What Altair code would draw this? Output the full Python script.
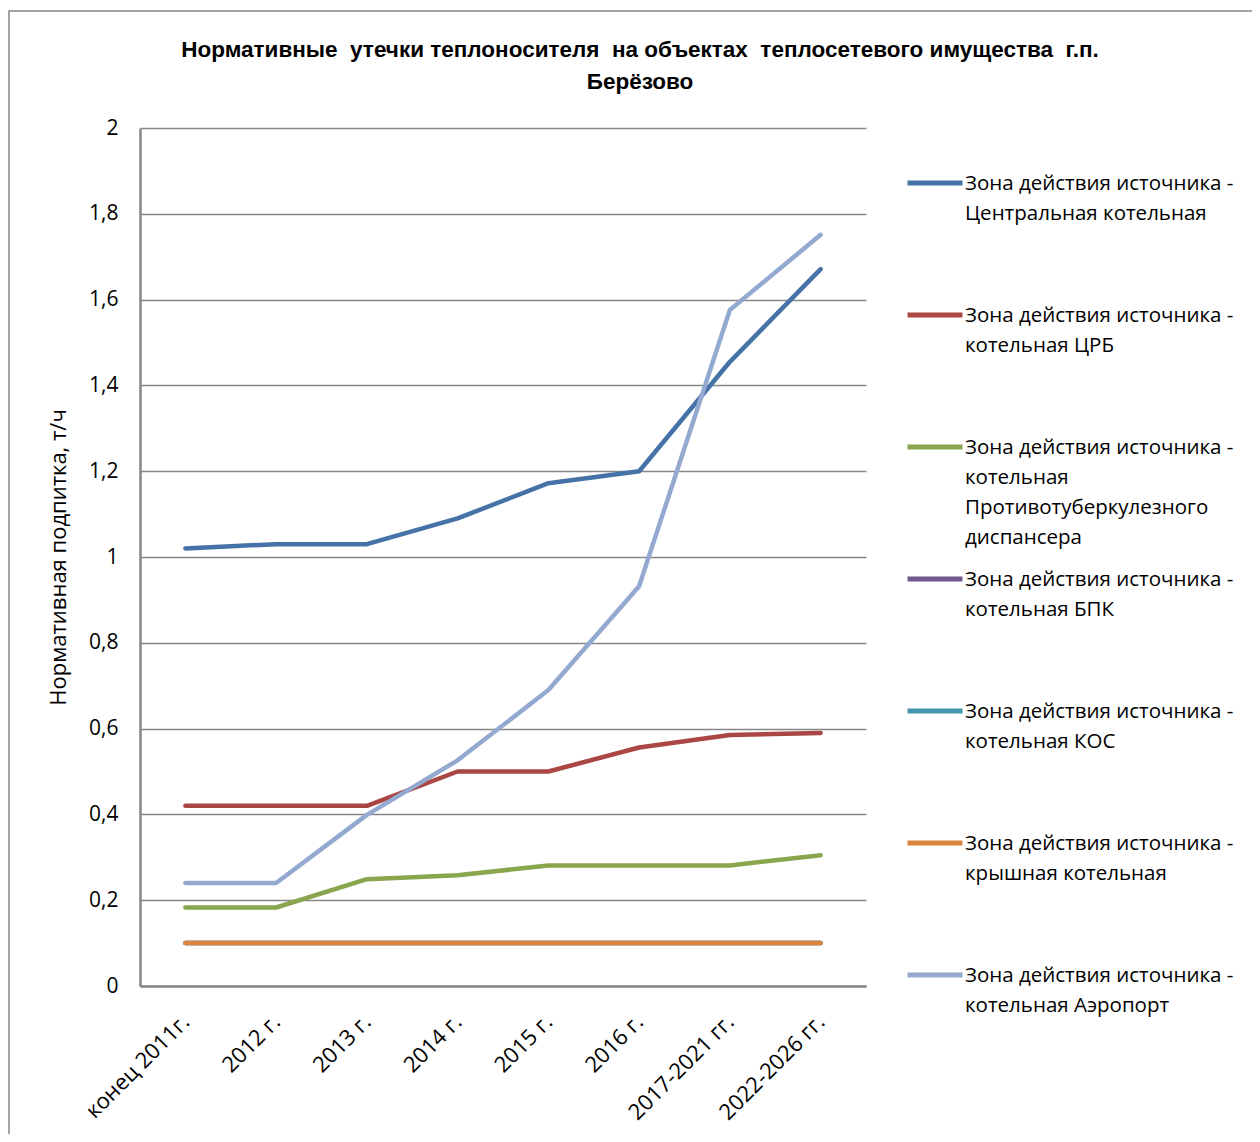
import altair as alt
import pandas as pd

categories = ["конец 2011г.", "2012 г.", "2013 г.", "2014 г.", "2015 г.", "2016 г.",
              "2017-2021 гг.", "2022-2026 гг."]

series_names = [
    "Зона действия источника -|Центральная котельная",
    "Зона действия источника -|котельная ЦРБ",
    "Зона действия источника -|котельная|Противотуберкулезного|диспансера",
    "Зона действия источника -|котельная БПК",
    "Зона действия источника -|котельная КОС",
    "Зона действия источника -|крышная котельная",
    "Зона действия источника -|котельная Аэропорт",
]

central = [1.02, 1.03, 1.03, 1.09, 1.172, 1.20, 1.455, 1.671]
crb = [0.42, 0.42, 0.42, 0.50, 0.50, 0.556, 0.585, 0.59]
ptd = [0.183, 0.183, 0.249, 0.258, 0.281, 0.281, 0.281, 0.305]
bpk = [0.10, 0.10, 0.10, 0.10, 0.10, 0.10, 0.10, 0.10]
kos = [0.10, 0.10, 0.10, 0.10, 0.10, 0.10, 0.10, 0.10]
roof = [0.10, 0.10, 0.10, 0.10, 0.10, 0.10, 0.10, 0.10]
airport = [0.24, 0.24, 0.399, 0.526, 0.69, 0.932, 1.576, 1.751]

colors = ["#4572A7", "#AA4643", "#89A54E", "#71588F", "#4198AF", "#DB843D", "#93A9CF"]

title_lines = [
    "Нормативные\u00a0 утечки теплоносителя\u00a0 на объектах\u00a0 теплосетевого имущества\u00a0 г.п.",
    "Берёзово",
]

all_series = [central, crb, ptd, bpk, kos, roof, airport]
rows = []
for si, (name, vals) in enumerate(zip(series_names, all_series)):
    for ci, (cat, v) in enumerate(zip(categories, vals)):
        rows.append({"series": name, "cat": cat, "value": v, "order": si})
df = pd.DataFrame(rows)

FONT = "Open Sans"

lines = alt.Chart(df).mark_line(strokeWidth=4.5, strokeCap="round", strokeJoin="round").encode(
    x=alt.X("cat:N", sort=categories, title=None,
            scale=alt.Scale(padding=0.5),
            axis=alt.Axis(labelAngle=-45, labelAlign="right", labelBaseline="middle",
                          labelPadding=32, ticks=False, domainColor="#868686", domainWidth=2.5,
                          labelFontSize=22, labelFont=FONT, labelColor="black", grid=False)),
    y=alt.Y("value:Q", title="Нормативная подпитка, т/ч",
            scale=alt.Scale(domain=[0, 2], nice=False),
            axis=alt.Axis(values=[0, 0.2, 0.4, 0.6, 0.8, 1, 1.2, 1.4, 1.6, 1.8, 2],
                          labelExpr="replace(format(datum.value, '.1~f'), '.', ',')",
                          labelFontSize=21, labelFont=FONT, labelColor="black",
                          labelPadding=22, ticks=False,
                          titleFontSize=22, titleFont=FONT, titleFontWeight="normal",
                          titleColor="black", titlePadding=18,
                          domainColor="#868686", domainWidth=2.5,
                          grid=True, gridColor="#868686", gridWidth=1.5)),
    color=alt.Color("series:N", sort=series_names,
                    scale=alt.Scale(domain=series_names, range=colors),
                    legend=alt.Legend(orient="none", legendX=765, legendY=25, title=None,
                                      labelExpr="split(datum.label, '|')",
                                      labelFontSize=20.5, labelFont=FONT, labelColor="black",
                                      labelLimit=400, labelBaseline="top", labelOffset=9,
                                      symbolType="M-1.486,0.486H1.486", symbolSize=1369,
                                      symbolOffset=9,
                                      symbolStrokeWidth=5, gridAlign="all", rowPadding=0)),
    order="order:Q",
    detail="series:N",
)

border = alt.Chart(pd.DataFrame({"a": [0]})).mark_rect(
    fill=None, stroke="#868686", strokeWidth=1.5
).encode(x=alt.value(-131), x2=alt.value(1300), y=alt.value(-117), y2=alt.value(1200))

chart = alt.layer(border, lines).properties(
    width=726, height=858,
    title=alt.TitleParams(
        text=title_lines,
        font="Liberation Sans", fontSize=22.5, fontWeight="bold", color="black",
        lineHeight=32, anchor="middle", dx=137, dy=83, offset=0),
    autosize=alt.AutoSizeParams(type="none"),
    padding={"left": 132, "top": 120, "right": 386, "bottom": 148},
).configure(
    style={"guide-label": {"lineHeight": 30}}
).configure_view(stroke=None)

chart.save("out.html", embed_options={"renderer": "svg", "actions": False})
